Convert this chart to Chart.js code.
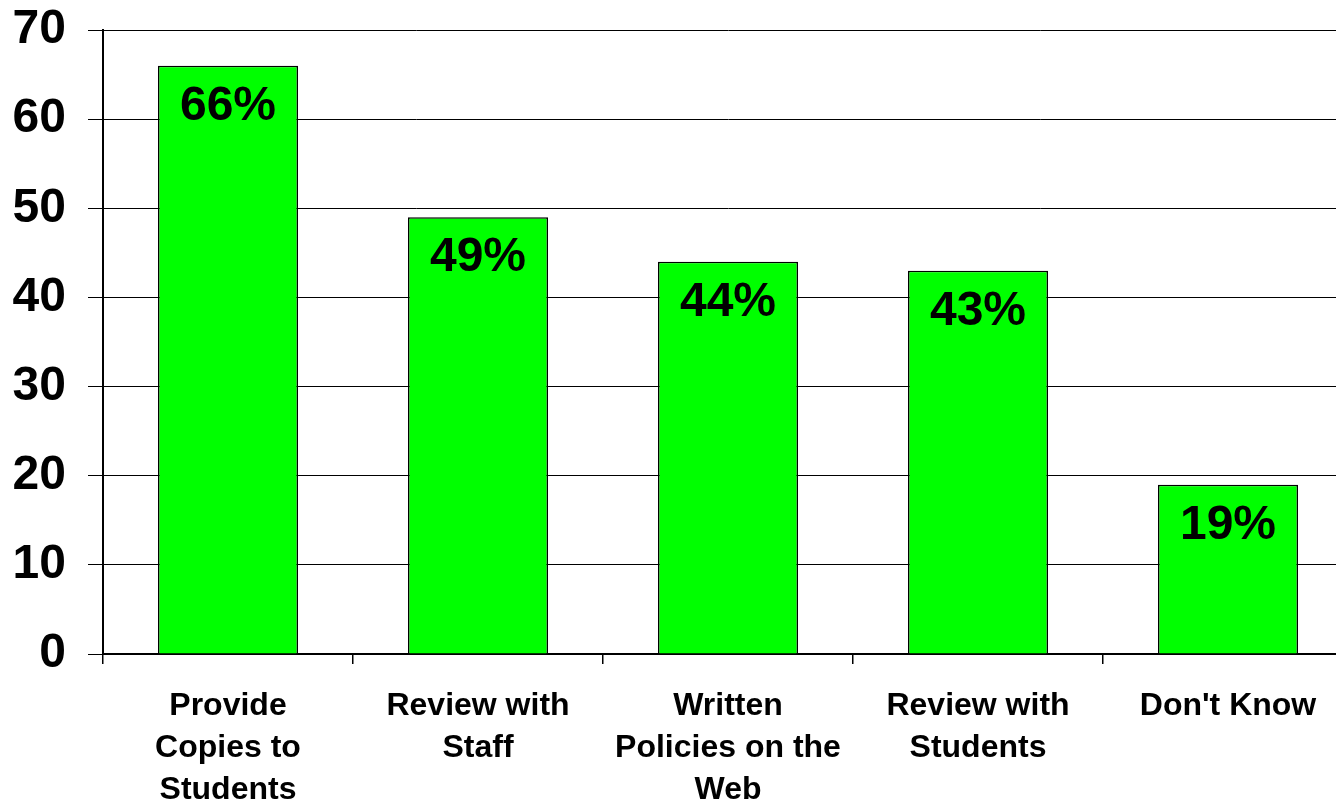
<!DOCTYPE html>
<html>
<head>
<meta charset="utf-8">
<script src="https://cdn.jsdelivr.net/npm/chart.js@4"></script>
<style>
  html, body { margin: 0; padding: 0; background: #fff; overflow: hidden; }
  canvas { display: block; }
</style>
</head>
<body>
<canvas id="graficoPoliticas" width="1353" height="803"></canvas>
<script>
// categorias e valores do gráfico
const categorias = [
    ["Provide", "Copies to", "Students"],
    ["Review with", "Staff"],
    ["Written", "Policies on the", "Web"],
    ["Review with", "Students"],
    ["Don't Know"]
];
const percentuais = [66, 49, 44, 43, 19];
const ticksY = [0, 10, 20, 30, 40, 50, 60, 70];

const FONTE = "'Liberation Sans', Arial, sans-serif";

// escreve o valor (%) dentro do topo de cada barra
const rotulosBarras = {
    id: "rotulosBarras",
    afterDatasetsDraw(chart) {
        const ctx = chart.ctx;
        const meta = chart.getDatasetMeta(0);
        ctx.save();
        ctx.font = "bold 48px " + FONTE;
        ctx.fillStyle = "#000";
        ctx.textAlign = "center";
        ctx.textBaseline = "middle";
        meta.data.forEach((barra, i) => {
            ctx.fillText(percentuais[i] + "%", barra.x, barra.y + 41);
        });
        ctx.restore();
    }
};

const ctx = document.getElementById("graficoPoliticas");

new Chart(ctx, {
    type: "bar",
    data: {
        labels: categorias,
        datasets: [{
            data: percentuais,
            backgroundColor: "#00ff00",
            borderColor: "#000",
            borderWidth: 1.5,
            barPercentage: 0.56,
            categoryPercentage: 1
        }]
    },
    options: {
        responsive: false,
        animation: false,
        layout: { padding: { top: 30, right: 0, left: 0, bottom: 0 } },
        plugins: {
            legend: { display: false },
            tooltip: { enabled: false }
        },
        scales: {
            x: {
                grid: {
                    offset: true,
                    drawOnChartArea: false,
                    drawTicks: true,
                    tickLength: 10,
                    color: "#000",
                    lineWidth: 1.5
                },
                border: { color: "#000", width: 2 },
                ticks: {
                    color: "#000",
                    font: { family: FONTE, size: 32, weight: "bold", lineHeight: 1.32 },
                    padding: 21,
                    maxRotation: 0,
                    autoSkip: false
                },
                afterFit(escala) {
                    escala.height = 149;
                    escala.paddingLeft = 0;
                    escala.paddingRight = 0;
                }
            },
            y: {
                min: 0,
                max: 70,
                afterBuildTicks(escala) {
                    escala.ticks = ticksY.map(v => ({ value: v }));
                },
                grid: {
                    color: "#000",
                    lineWidth: 1,
                    tickLength: 15
                },
                border: { color: "#000", width: 2 },
                ticks: {
                    color: "#000",
                    font: { family: FONTE, size: 48, weight: "bold" },
                    padding: 22
                },
                afterFit(escala) {
                    escala.width = 103;
                    escala.paddingTop = 0;
                    escala.paddingBottom = 0;
                }
            }
        }
    },
    plugins: [rotulosBarras]
});
</script>
</body>
</html>
